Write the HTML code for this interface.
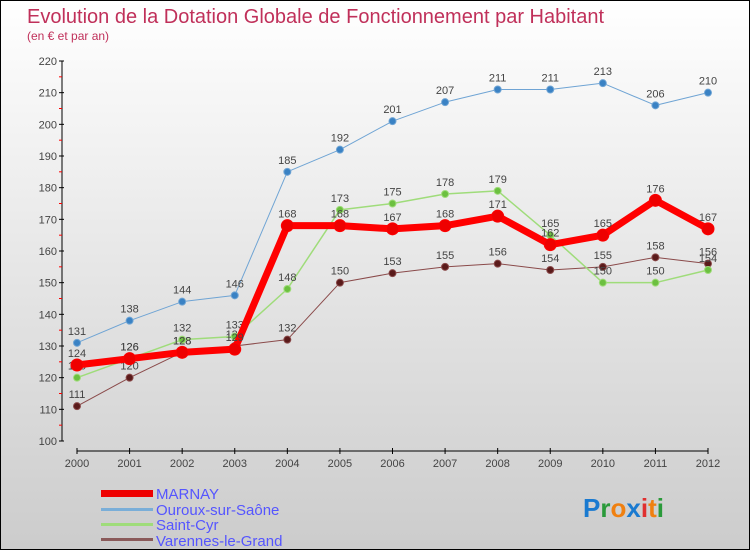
<!DOCTYPE html>
<html><head><meta charset="utf-8"><style>
body{margin:0}
#c{width:750px;height:550px;position:relative;box-sizing:border-box;border:1px solid #000;background:linear-gradient(#fff,#ccc);font-family:"Liberation Sans",sans-serif;overflow:hidden}
svg text{font-family:"Liberation Sans",sans-serif}
</style></head><body>
<div id="c">
<svg id="s" width="750" height="550">
<text x="26" y="22" font-size="20" fill="#c0305a">Evolution de la Dotation Globale de Fonctionnement par Habitant</text>
<text x="26" y="39" font-size="12" fill="#c0305a">(en € et par an)</text>
<g id="axes"></g><g id="series"></g>
<g>
<rect x="100" y="489" width="52" height="7" fill="#e00"/>
<text x="155" y="498" font-size="15" fill="#55f">MARNAY</text>
<rect x="100" y="507" width="52" height="3" fill="#7aaed8"/>
<text x="155" y="514" font-size="15" fill="#55f">Ouroux-sur-Saône</text>
<rect x="100" y="522" width="52" height="3" fill="#9fdc7a"/>
<text x="155" y="529" font-size="15" fill="#55f">Saint-Cyr</text>
<rect x="100" y="537" width="52" height="3" fill="#8a5a5a"/>
<text x="155" y="545" font-size="15" fill="#55f">Varennes-le-Grand</text>
</g>
<text x="582" y="516" font-size="26" font-weight="bold"><tspan fill="#1a7ad0">P</tspan><tspan fill="#2a9a3a">r</tspan><tspan fill="#f08010">o</tspan><tspan fill="#1a7ad0">x</tspan><tspan fill="#e03030">i</tspan><tspan fill="#f08010">t</tspan><tspan fill="#2a9a3a">i</tspan></text>
</svg></div>
<script>
const years=[2000,2001,2002,2003,2004,2005,2006,2007,2008,2009,2010,2011,2012];
const yTicks=[100,110,120,130,140,150,160,170,180,190,200,210,220];
const marnay=[124,126,128,129,168,168,167,168,171,162,165,176,167];
const ouroux=[131,138,144,146,185,192,201,207,211,211,213,206,210];
const saintCyr=[120,126,132,133,148,173,175,178,179,165,150,150,154];
const varennes=[111,120,128,130,132,150,153,155,156,154,155,158,156];
const NS="http://www.w3.org/2000/svg";
const X=i=>76+i*(707-76)/(years.length-1);
const Y=v=>440-(v-100)*(380/120);
function mk(t,a,p){const e=document.createElementNS(NS,t);for(const k in a)e.setAttribute(k,a[k]);p.appendChild(e);return e;}
const ax=document.getElementById('axes');
let l=mk('line',{x1:61,y1:Y(220),x2:61,y2:440,stroke:'#000','stroke-width':1},ax);


yTicks.forEach(v=>{
 const t=mk('line',{x1:58,y1:Y(v),x2:63,y2:Y(v),stroke:'#000'},ax);
 
 
 if(v<220){const m=mk('line',{x1:58,y1:Y(v+5),x2:61,y2:Y(v+5),stroke:'#f00'},ax);
 
 }
 const tx=mk('text',{x:56,y:Y(v)+4,'font-size':11,fill:'#444','text-anchor':'end'},ax);tx.textContent=v;
 
 
});
l=mk('line',{x1:X(0),y1:450,x2:X(12),y2:450,stroke:'#000'},ax);


years.forEach((y,i)=>{
 const t=mk('line',{x1:X(i),y1:447,x2:X(i),y2:453,stroke:'#000'},ax);
 
 
 const tx=mk('text',{x:X(i),y:466,'font-size':11,fill:'#444','text-anchor':'middle'},ax);tx.textContent=y;
 
 
});
const sg=document.getElementById('series');
function series(name,data,color,w,r,dot){
 const g=mk('g',{},sg);
 
 
 const p=mk('polyline',{points:data.map((v,i)=>X(i)+','+Y(v)).join(' '),fill:'none',stroke:color,'stroke-width':w,'stroke-linejoin':'round'},g);
 
 
 data.forEach((v,i)=>{
  const c=mk('circle',{cx:X(i),cy:Y(v),r:r,fill:dot,stroke:color,'stroke-width':1},g);
  
  
  const t=mk('text',{x:X(i),y:Y(v)-8,'font-size':11,fill:'#444','text-anchor':'middle'},g);t.textContent=v;
  
  
 });
}
series('varennes',varennes,'#8a4a4a',1,3.5,'#5a1a1a');
series('saint-cyr',saintCyr,'#9fdc7a',1.5,3.5,'#6cc040');
series('ouroux',ouroux,'#6fa4d4',1,3.5,'#3a82c4');
series('marnay',marnay,'#f00',7,6,'#e00');
</script>
</body></html>
